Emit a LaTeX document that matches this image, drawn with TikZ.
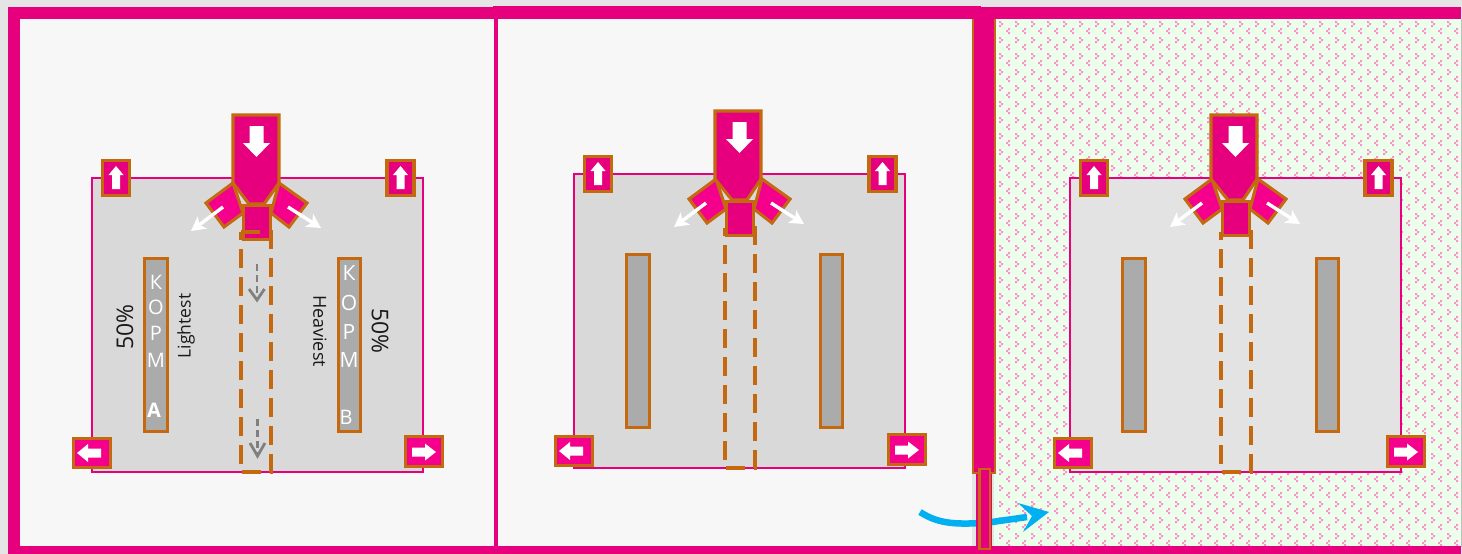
\documentclass[tikz,border=0pt]{standalone}
\usepackage{fontspec}
\setmainfont{Open Sans}
\usetikzlibrary{arrows.meta}
\definecolor{pinkmain}{HTML}{E6007E}
\definecolor{pinkhot}{HTML}{F5008C}
\definecolor{rust}{HTML}{C4690F}
\definecolor{bluearrow}{HTML}{00B0F0}
\definecolor{mint}{HTML}{EBFFEB}
\definecolor{dotpink}{HTML}{FF8FD0}
\definecolor{page}{HTML}{F7F7F7}
\tikzset{
  wallfill/.style={fill=pinkmain,draw=none},
  partbox/.style={fill=pinkmain,draw=rust,line width=3.1pt,line join=miter},
  hotbox/.style={fill=pinkhot,draw=rust,line width=3.1pt,line join=miter},
  barbox/.style={fill=black!33,draw=rust,line width=3.1pt},
  roombox/.style={draw=pinkmain,line width=2.6pt},
  whitehead/.style={fill=white,draw=none},
  jet/.style={draw=white,line width=3.4pt,-{Stealth[length=14pt,width=15pt,inset=3.5pt]}},
  dashcol/.style={draw=rust,line width=3.1pt,dash pattern=on 19pt off 9pt},
  flowline/.style={draw=black!50,line width=2.6pt,dash pattern=on 7pt off 4pt},
  flowhead/.style={draw=black!50,line width=2.8pt,fill=none},
  wtext/.style={text=white,font=\fontsize{20}{20}\selectfont,inner sep=0pt},
  dtext/.style={text=black!90,inner sep=0pt},
}
% room, bars and the four small boxes, in the coordinates of the first plan
\newcommand\roomparts[4]{%
  \fill[#1] (92,178) rectangle (423,472);
  \draw[roombox] (92,178) rectangle (423,472);
  \draw[barbox] (144.5,258.5) rectangle (167.5,431.5);
  \draw[barbox] (338.5,258.5) rectangle (360.5,431.5);
  \begin{scope}[shift={(0,0)}]
    \draw[partbox] (102.5,160.5) rectangle (129.5,195.5);
    \fill[whitehead] (112,189) -- (120,189) -- (120,175) -- (123.5,175) -- (116,166) -- (108.5,175) -- (112,175) -- cycle;
  \end{scope}
  \begin{scope}[shift={(284.5,0)}]
    \draw[partbox] (102.5,160.5) rectangle (129.5,195.5);
    \fill[whitehead] (112,189) -- (120,189) -- (120,175) -- (123.5,175) -- (116,166) -- (108.5,175) -- (112,175) -- cycle;
  \end{scope}
  \begin{scope}[shift={(#2,#4)}]
    \draw[hotbox] (73.5,438.5) rectangle (110.5,467.5);
    \fill[whitehead] (77,453) -- (88,444) -- (88,448.5) -- (101,448.5) -- (101,457.5) -- (88,457.5) -- (88,462) -- cycle;
  \end{scope}
  \begin{scope}[shift={(#3,#4)}]
    \draw[hotbox] (405.5,436.5) rectangle (442.5,466.5);
    \fill[whitehead] (436,452) -- (425,443.5) -- (425,447.5) -- (412,447.5) -- (412,456.5) -- (425,456.5) -- (425,460.5) -- cycle;
  \end{scope}
}
% feed chute: #1 = sideways offset of the lower parts, #2 = lift of the lower parts
\newcommand\chute[2]{%
  \draw[hotbox] ({233+#1},{183+#2}) -- ({206+#1},{203+#2}) -- ({224+#1},{227+#2}) -- ({243+#1},{213+#2}) -- cycle;
  \draw[hotbox] ({279+#1},{183+#2}) -- ({307+#1},{203+#2}) -- ({289+#1},{227+#2}) -- ({271+#1},{213+#2}) -- cycle;
  \draw[partbox] (233,115) -- (279,115) -- (279,{183+#2}) -- ({264+#1},{204+#2}) -- ({249+#1},{204+#2}) -- (233,{183+#2}) -- cycle;
  \fill[whitehead] ({249.5+#1},126) -- ({263.5+#1},126) -- ({263.5+#1},143) -- ({270+#1},143) -- ({256.5+#1},157) -- ({243+#1},143) -- ({249.5+#1},143) -- cycle;
  \draw[jet] ({223+#1},{207+#2}) -- ({191+#1},{231+#2});
  \draw[jet] ({288+#1},{207+#2}) -- ({321+#1},{228+#2});
}
\newcommand\chutefoot[2]{\draw[partbox] ({243.5+#1},{205.5+#2}) rectangle ({270.5+#1},{239.5+#2});}
\newcommand\dashes[1]{\draw[dashcol] ({241+#1},232) -- ({271+#1},232) -- ({271+#1},472) -- ({241+#1},472) -- cycle;}
\begin{document}
\begin{tikzpicture}[x=1pt,y=-1pt]
\useasboundingbox (0,0) rectangle (1462,554);
\fill[black!10] (0,0) rectangle (1462,554);
% floors
\fill[page] (20,19) rectangle (494,546);
\fill[page] (498,19) rectangle (972,546);
\fill[mint] (994,19) rectangle (1460.5,547);
% dotted ground of the right-hand field
\begin{scope}
  \clip (994,19) rectangle (1460.5,547);
  \fill[dotpink]
  \foreach \i in {0,...,29}{\foreach \j in {0,...,33}{
    ({999+16*\i},{21+16*\j}) rectangle +(2,2)
    ({1001+16*\i},{23+16*\j}) rectangle +(2,2)
    ({999+16*\i},{25+16*\j}) rectangle +(2,2)
    ({1008+16*\i},{28+16*\j}) rectangle +(2,2)
    ({1006+16*\i},{30+16*\j}) rectangle +(2,2)
    ({1008+16*\i},{32+16*\j}) rectangle +(2,2)
  }};
\end{scope}
\draw[black!25,line width=1pt] (1461,19) -- (1461,547);
% blue arrow, passing behind the gate
\draw[bluearrow,line width=6.5pt] (920,512) .. controls (940,525) and (958,524) .. (985,523) -- (1027,517);
\fill[bluearrow] (1049,512) -- (1018,503) -- (1032,516) -- (1023,532) -- cycle;
% walls
\fill[wallfill] (8,7) rectangle (1461,19);
\fill[wallfill] (493,6) rectangle (981,19);
\fill[wallfill] (8,7) rectangle (20,554);
\fill[wallfill] (494,19) rectangle (498,546);
\fill[wallfill] (8,546) rectangle (1461,554);
\fill[wallfill] (976,470) rectangle (992,546);
\draw[partbox,line width=2.6pt,fill=none] (973,19) -- (973,473) -- (995,473) -- (995,19);
\fill[wallfill] (974,14) rectangle (994,472);
\draw[partbox,line width=2.6pt] (979.5,469) rectangle (990,549);
% first plan
\roomparts{black!15}{0}{0}{0}
\chute{0}{0}
\chutefoot{0}{0}
\dashes{0}
\node[wtext] (ka) at (156,282) {К};
\node[wtext] (oa) at (156,307) {О};
\node[wtext] (ra) at (156,333) {Р};
\node[wtext] (ma) at (156,360) {М};
\node[wtext,font=\fontsize{20}{20}\selectfont\bfseries] (aa) at (154,410) {А};
\node[wtext,font=\fontsize{21}{21}\selectfont] (kb) at (349,273) {К};
\node[wtext,font=\fontsize{21}{21}\selectfont] (ob) at (349,303) {О};
\node[wtext,font=\fontsize{21}{21}\selectfont] (rb) at (349,332) {Р};
\node[wtext,font=\fontsize{21}{21}\selectfont] (mb) at (349,360) {М};
\node[wtext,font=\fontsize{20}{20}\selectfont] (bb) at (346,417) {В};
\node[dtext,rotate=90,font=\fontsize{23}{23}\selectfont] (pa) at (125,327) {50\%};
\node[dtext,rotate=-90,font=\fontsize{23}{23}\selectfont] (pb) at (380,331) {50\%};
\node[dtext,rotate=90,font=\fontsize{17.5}{18}\selectfont] (la) at (186,326) {Lightest};
\node[dtext,rotate=-90,font=\fontsize{18}{18}\selectfont] (hb) at (320,331) {Heaviest};
\draw[flowline] (257,264) -- (257,298);
\draw[flowhead] (249,289) -- (257,300) -- (264.5,289);
\draw[flowline] (257.5,419) -- (257.5,454);
\draw[flowhead] (250,443) -- (257.5,456) -- (265,443);
% second plan
\begin{scope}[shift={(482,-4)}]
  \roomparts{black!15}{0}{1}{2}
  \dashes{2}
  \chute{1}{0}
  \chutefoot{1}{0}
\end{scope}
% third plan
\begin{scope}[shift={(978,0)}]
  \roomparts{black!11}{3}{4}{0}
  \dashes{2}
  \chute{1}{-4}
  \chutefoot{1}{-4}
\end{scope}
\end{tikzpicture}
\end{document}
